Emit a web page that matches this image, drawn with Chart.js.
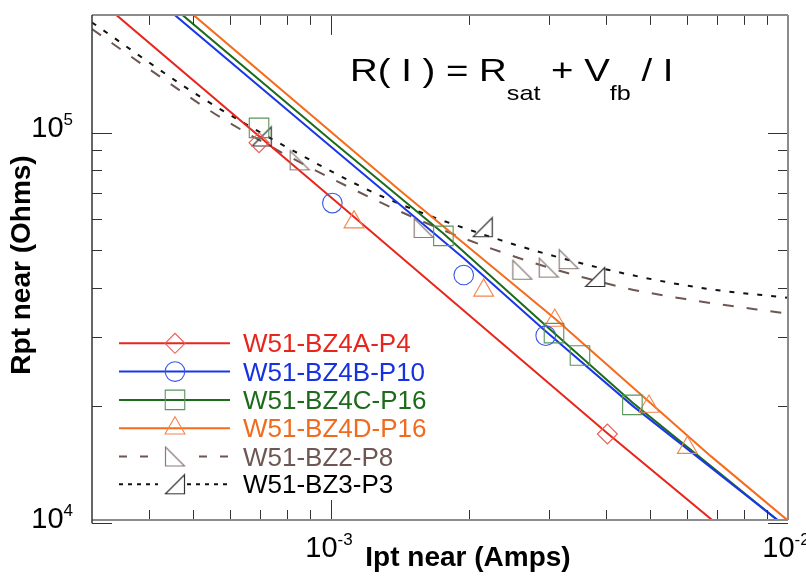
<!DOCTYPE html>
<html><head><meta charset="utf-8">
<script src="https://cdn.jsdelivr.net/npm/chart.js@4/dist/chart.umd.min.js"></script>
<style>
html,body{margin:0;padding:0;background:#fff;}
#wrap{position:relative;width:806px;height:577px;overflow:hidden;font-family:Arial,"Liberation Sans",Helvetica,sans-serif;}
#c{position:absolute;left:0;top:0;}
.t{position:absolute;white-space:nowrap;}
#eq{left:350px;top:54.4px;font-size:32px;line-height:32px;color:#000;transform:scaleX(1.2);transform-origin:0 0;}
#eq sub{font-size:21px;vertical-align:-19px;line-height:32px;}
#ytitle{left:20.5px;top:265px;font-size:28px;line-height:28px;font-weight:bold;transform:translate(-50%,-50%) rotate(-90deg);}
#xtitle{left:468px;top:557px;font-size:28px;line-height:28px;font-weight:bold;transform:translate(-50%,-50%);}
.tick{font-size:29px;line-height:29px;color:#000;}
.tick .e{font-size:17px;position:relative;top:-12px;}
.leg{font-size:26px;line-height:26px;}
</style></head><body>
<div id="wrap">
<canvas id="c" width="806" height="577"></canvas>
<div id="eq" class="t">R( I ) = R<sub>sat</sub> + V<sub>fb</sub> / I</div>
<div id="ytitle" class="t">Rpt near (Ohms)</div>
<div id="xtitle" class="t">Ipt near (Amps)</div>
</div>
<script>
// ---- axis ranges and tick labels ----
const xRange = [3e-4, 1e-2];
const yRange = [10200, 2e5];
const xTickValues = [1e-3, 1e-2];
const xTickBase = ['10', '10'];
const xTickExp = ['-3', '-2'];
const yTickValues = [1e4, 1e5];
const yTickBase = ['10', '10'];
const yTickExp = ['4', '5'];

// ---- series names ----
const seriesNames = ['W51-BZ4A-P4', 'W51-BZ4B-P10', 'W51-BZ4C-P16', 'W51-BZ4D-P16', 'W51-BZ2-P8', 'W51-BZ3-P3'];

// ---- measured points (I in A, R in Ohm) ----
const bz4aI = [6.96e-4, 4.025e-3];
const bz4aR = [9.42e4, 1.693e4];
const bz4bI = [1.007e-3, 1.952e-3, 2.95e-3];
const bz4bR = [6.60e4, 4.32e4, 3.022e4];
const bz4cI = [6.96e-4, 1.762e-3, 3.076e-3, 3.506e-3, 4.566e-3];
const bz4cR = [1.028e5, 5.44e4, 3.068e4, 2.689e4, 2.01e4];
const bz4dI = [1.123e-3, 2.158e-3, 3.088e-3, 4.964e-3, 6.024e-3];
const bz4dR = [5.90e4, 3.946e4, 3.304e4, 1.99e4, 1.562e4];
const bz2I = [8.54e-4, 1.595e-3, 2.623e-3, 2.995e-3, 3.312e-3];
const bz2R = [8.49e4, 5.70e4, 4.456e4, 4.512e4, 4.742e4];
const bz3I = [7.055e-4, 2.148e-3, 3.786e-3];
const bz3R = [9.77e4, 5.724e4, 4.27e4];

// ---- fitted curves R(I) = Rsat + Vfb/I ----
const fit4aI = [3.39e-4, 1.0e-3, 4.025e-3, 6.835e-3];
const fit4aR = [2.0e5, 6.83e4, 1.70e4, 1.018e4];
const fit4bI = [4.55e-4, 1.0e-3, 1.952e-3, 2.95e-3, 4.566e-3, 9.50e-3];
const fit4bR = [2.0e5, 9.20e4, 4.77e4, 3.10e4, 2.001e4, 1.018e4];
const fit4cI = [4.73e-4, 1.0e-3, 1.762e-3, 2.95e-3, 4.566e-3, 9.50e-3];
const fit4cR = [2.0e5, 9.56e4, 5.52e4, 3.21e4, 2.037e4, 1.018e4];
const fit4dI = [5.00e-4, 1.42e-3, 3.088e-3, 6.777e-3, 9.98e-3];
const fit4dR = [2.0e5, 7.09e4, 3.344e4, 1.486e4, 1.018e4];
const fit2I = [3.0e-4, 4.09e-4, 5.94e-4, 1.304e-3, 2.236e-3, 4.232e-3, 6.217e-3, 1.0e-2];
const fit2R = [1.84e5, 1.427e5, 1.066e5, 6.57e4, 5.055e4, 4.045e4, 3.72e4, 3.44e4];
const fit3I = [3.0e-4, 5.10e-4, 8.16e-4, 1.306e-3, 2.35e-3, 3.892e-3, 6.44e-3, 1.0e-2];
const fit3R = [1.913e5, 1.248e5, 9.06e4, 6.83e4, 5.306e4, 4.50e4, 4.005e4, 3.777e4];

// ---- styles ----
const lineColors = ['#e8261c', '#1a38e6', '#1c6c1c', '#f46c1c', '#6e5752', '#111111'];
const textColors = ['#e8251c', '#1632e0', '#1b6b1b', '#f06b1e', '#6e5752', '#000000'];
const markColors = ['#f05a52', '#3a58e4', '#5a955a', '#f5844a', '#8a7b77', '#333333'];
const dashes = [[], [], [], [], [11, 13], [5, 9]];

function zip(a, b) { return a.map((v, i) => ({x: v, y: b[i]})); }

function rightTri(kind, color) {
  const c = document.createElement('canvas');
  c.width = 22; c.height = 22;
  const g = c.getContext('2d');
  g.strokeStyle = color; g.lineWidth = 1.2;
  g.beginPath();
  if (kind === 'L') { g.moveTo(1.5, 1.5); g.lineTo(1.5, 20.5); g.lineTo(20.5, 20.5); }
  else { g.moveTo(20.5, 1.5); g.lineTo(20.5, 20.5); g.lineTo(1.5, 20.5); }
  g.closePath(); g.stroke();
  return c;
}
const triL = rightTri('L', markColors[4]);
const triR = rightTri('R', markColors[5]);

const pointStyles = ['rectRot', 'circle', 'rect', 'triangle', triL, triR];
const pointRadii = [10, 9.8, 13.8, 11.5, 11, 11];

const measured = [zip(bz4aI, bz4aR), zip(bz4bI, bz4bR), zip(bz4cI, bz4cR), zip(bz4dI, bz4dR), zip(bz2I, bz2R), zip(bz3I, bz3R)];
const fits = [zip(fit4aI, fit4aR), zip(fit4bI, fit4bR), zip(fit4cI, fit4cR), zip(fit4dI, fit4dR), zip(fit2I, fit2R), zip(fit3I, fit3R)];

const datasets = [];
fits.forEach((d, i) => {
  datasets.push({
    label: seriesNames[i] + ' fit', data: d, showLine: true,
    borderColor: lineColors[i], borderWidth: 2, borderDash: dashes[i],
    pointRadius: 0, pointHoverRadius: 0, fill: false,
    tension: 0, cubicInterpolationMode: i >= 4 ? 'monotone' : 'default',
    order: 1
  });
});
measured.forEach((d, i) => {
  datasets.push({
    label: seriesNames[i], data: d, showLine: false,
    pointStyle: pointStyles[i], pointRadius: pointRadii[i], pointHoverRadius: pointRadii[i],
    pointBorderColor: markColors[i], pointBackgroundColor: 'rgba(0,0,0,0)', pointBorderWidth: 1.1,
    order: 0
  });
});

function drawShape(ctx, i, x, y) {
  const st = pointStyles[i], r = pointRadii[i];
  ctx.save();
  ctx.strokeStyle = markColors[i]; ctx.lineWidth = 1.1;
  if (typeof st !== 'string') { ctx.drawImage(st, x - st.width / 2, y - st.height / 2); ctx.restore(); return; }
  ctx.beginPath();
  if (st === 'rectRot') { ctx.moveTo(x - r, y); ctx.lineTo(x, y - r); ctx.lineTo(x + r, y); ctx.lineTo(x, y + r); ctx.closePath(); }
  else if (st === 'circle') { ctx.arc(x, y, r, 0, Math.PI * 2); }
  else if (st === 'rect') { const s = Math.SQRT1_2 * r; ctx.rect(x - s, y - s, 2 * s, 2 * s); }
  else if (st === 'triangle') {
    let a = 0; ctx.moveTo(x + Math.sin(a) * r, y - Math.cos(a) * r);
    a += 2 * Math.PI / 3; ctx.lineTo(x + Math.sin(a) * r, y - Math.cos(a) * r);
    a += 2 * Math.PI / 3; ctx.lineTo(x + Math.sin(a) * r, y - Math.cos(a) * r);
    ctx.closePath();
  }
  ctx.stroke();
  ctx.restore();
}

const legendRows = [343.3, 371.6, 399.9, 428.2, 456.5, 484.3];

const framePlugin = {
  id: 'frame',
  afterDraw(chart) {
    const {ctx, chartArea: a} = chart;
    const xs = chart.scales.x, ys = chart.scales.y;
    ctx.save();
    ctx.strokeStyle = '#333'; ctx.lineWidth = 1;
    const seg = (x1, y1, x2, y2) => { ctx.beginPath(); ctx.moveTo(x1, y1); ctx.lineTo(x2, y2); ctx.stroke(); };
    for (let d = -4; d <= -2; d++) for (let m = 1; m <= 9; m++) {
      const v = m * Math.pow(10, d);
      if (v <= xRange[0] * 1.001 || v >= xRange[1] * 0.999) continue;
      const px = Math.round(xs.getPixelForValue(v)) + 0.5;
      const len = m === 1 ? 20 : 10;
      seg(px, a.bottom, px, a.bottom - len);
      seg(px, a.top, px, a.top + len);
    }
    for (let d = 4; d <= 5; d++) for (let m = 1; m <= 9; m++) {
      const v = m * Math.pow(10, d);
      if (v >= yRange[1] * 0.999) continue;
      const py = Math.round(ys.getPixelForValue(v)) + 0.5;
      if (py > a.bottom + 4) continue;
      const len = m === 1 ? 20 : 10;
      seg(a.left, py, a.left + len, py);
      seg(a.right, py, a.right - len, py);
    }
    // frame
    ctx.strokeStyle = '#8c8c8c'; ctx.lineWidth = 2;
    seg(a.left, a.top, a.right, a.top);
    seg(a.right, a.top, a.right, a.bottom);
    seg(a.left, a.bottom, a.right, a.bottom);
    ctx.strokeStyle = '#333'; ctx.lineWidth = 1.5;
    seg(a.left, a.top, a.left, ys.getPixelForValue(1e4));
    // legend icons
    legendRows.forEach((ry, i) => {
      ctx.save();
      ctx.strokeStyle = lineColors[i]; ctx.lineWidth = 2;
      if (i < 4) { seg(119, ry, 230, ry); }
      else {
        ctx.setLineDash(i === 4 ? [8, 13] : [4, 5]);
        seg(119, ry, i === 4 ? 150 : 158, ry);
        seg(i === 4 ? 199 : 187, ry, 230, ry);
      }
      ctx.restore();
      drawShape(ctx, i, 175, ry);
    });
    ctx.restore();
  }
};

const chart = new Chart(document.getElementById('c'), {
  type: 'scatter',
  data: {datasets},
  options: {
    responsive: false, animation: false, devicePixelRatio: 1,
    layout: {padding: {left: 92, top: 9.5, right: 18, bottom: 57}},
    plugins: {legend: {display: false}, tooltip: {enabled: false}},
    scales: {
      x: {type: 'logarithmic', min: xRange[0], max: xRange[1], display: false, bounds: 'data'},
      y: {type: 'logarithmic', min: yRange[0], max: yRange[1], display: false, bounds: 'data'}
    }
  },
  plugins: [framePlugin]
});

// ---- HTML texts placed with the chart scales ----
const wrap = document.getElementById('wrap');
function addLabel(base, exp, px, baseline, align) {
  const el = document.createElement('div');
  el.className = 't tick';
  el.innerHTML = '<span>' + base + '</span><span class="e">' + exp + '</span>';
  wrap.appendChild(el);
  const w = el.getBoundingClientRect().width;
  el.style.top = (baseline - 24.55) + 'px';
  el.style.left = (align === 'center' ? px - w / 2 : px - w) + 'px';
}
xTickValues.forEach((v, i) => addLabel(xTickBase[i], xTickExp[i], chart.scales.x.getPixelForValue(v) - 2, 558, 'center'));
yTickValues.forEach((v, i) => addLabel(yTickBase[i], yTickExp[i], 73, chart.scales.y.getPixelForValue(v) + 5, 'right'));

seriesNames.forEach((n, i) => {
  const el = document.createElement('div');
  el.className = 't leg';
  el.textContent = n;
  el.style.color = textColors[i];
  el.style.left = '243px';
  el.style.top = (legendRows[i] - 13) + 'px';
  wrap.appendChild(el);
});
</script>
</body></html>
